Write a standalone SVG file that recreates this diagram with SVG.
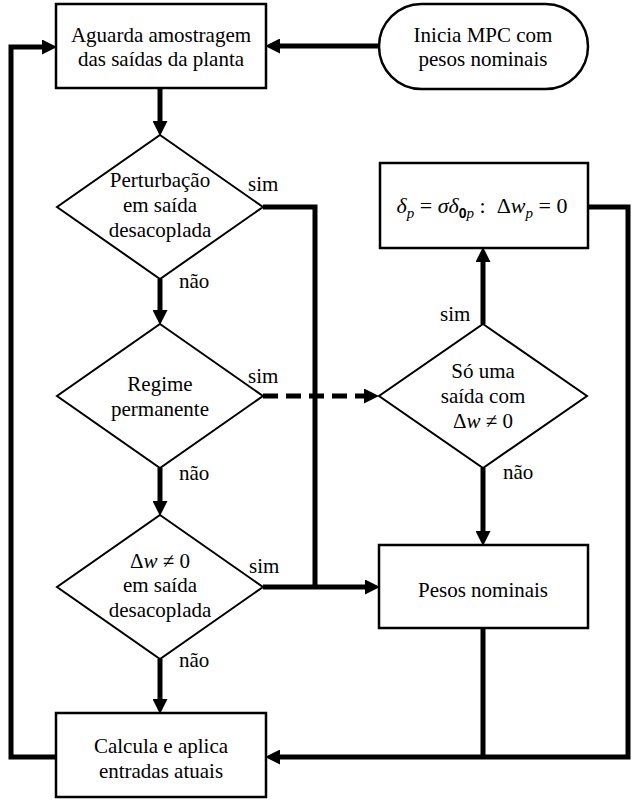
<svg xmlns="http://www.w3.org/2000/svg" width="634" height="800" viewBox="0 0 634 800" font-family="'Liberation Serif', 'Times New Roman', serif">
<style>
text { font-family: 'Liberation Serif', 'Times New Roman', serif; font-size: 21px; fill: #000; }
.c { text-anchor: middle; }
.box { fill: #fff; stroke: #000; stroke-width: 2.5; }
.dia { fill: #fff; stroke: #000; stroke-width: 2; }
.conn { fill: none; stroke: #000; stroke-width: 5; stroke-linejoin: miter; }
.arr { marker-end: url(#ah); }
.dash { stroke-dasharray: 15 8; }
.it { font-style: italic; }
.sub { font-size: 15px; font-style: italic; }
.bz { font-family: 'Liberation Sans', Arial, sans-serif; font-weight: bold; font-size: 14px; }
</style>
<defs>
<marker id="ah" markerUnits="userSpaceOnUse" markerWidth="15" markerHeight="15" refX="4" refY="7.5" orient="auto">
<path d="M0,0 L15,7.5 L0,15 z" fill="#000"/>
</marker>
</defs>

<g id="connectors">
<path class="conn arr" d="M379,46 H276"/>
<path class="conn arr" d="M160,88 V125"/>
<path class="conn arr" d="M160,279 V314"/>
<path class="conn arr" d="M160,468 V505"/>
<path class="conn arr" d="M160,659 V703"/>
<path class="conn arr" d="M56,757 H11 V47 H46"/>
<path class="conn" d="M263,207 H315 V587"/>
<path class="conn arr" d="M263,587 H369"/>
<path class="conn arr dash" d="M263,396 H368"/>
<path class="conn arr" d="M483,324 V258"/>
<path class="conn arr" d="M483,468 V535"/>
<path class="conn arr" d="M588,207 H628 V757 H276"/>
<path class="conn" d="M483,628 V757"/>
</g>

<g id="start">
<rect class="box" x="379" y="4" width="209" height="85" rx="42.5" ry="42.5"/>
<text class="c" x="483" y="42">Inicia MPC com</text>
<text class="c" x="483" y="66">pesos nominais</text>
</g>

<g id="wait">
<rect class="box" x="56" y="4" width="210" height="84"/>
<text class="c" x="161" y="42">Aguarda amostragem</text>
<text class="c" x="161" y="66">das saídas da planta</text>
</g>

<g id="dec-disturb">
<polygon class="dia" points="160,135 263,207 160,279 57,207"/>
<text class="c" x="160" y="187">Perturbação</text>
<text class="c" x="160" y="212">em saída</text>
<text class="c" x="160" y="237">desacoplada</text>
<text x="248" y="191">sim</text>
<text x="179" y="288">não</text>
</g>

<g id="dec-steady">
<polygon class="dia" points="160,324 263,396 160,468 57,396"/>
<text class="c" x="160" y="391">Regime</text>
<text class="c" x="160" y="416">permanente</text>
<text x="248" y="383">sim</text>
<text x="179" y="480">não</text>
</g>

<g id="dec-dw">
<polygon class="dia" points="160,515 263,587 160,659 57,587"/>
<text class="c" x="160" y="568">Δ<tspan class="it">w</tspan> ≠ 0</text>
<text class="c" x="160" y="592">em saída</text>
<text class="c" x="160" y="617">desacoplada</text>
<text x="249" y="573">sim</text>
<text x="179" y="667">não</text>
</g>

<g id="dec-single">
<polygon class="dia" points="483,324 587,396 483,468 379,396"/>
<text class="c" x="483" y="378">Só uma</text>
<text class="c" x="483" y="403">saída com</text>
<text class="c" x="483" y="428">Δ<tspan class="it">w</tspan> ≠ 0</text>
<text x="440" y="321">sim</text>
<text x="503" y="479">não</text>
</g>

<g id="delta">
<rect class="box" x="380" y="163" width="208" height="85"/>
<text class="c" x="482" y="213" style="font-size:22px"><tspan class="it">δ</tspan><tspan class="sub" dy="5">p</tspan><tspan dy="-5">&#160;=&#160;</tspan><tspan class="it">σδ</tspan><tspan class="bz" dy="5">0</tspan><tspan class="sub">p</tspan><tspan dy="-5">&#160;:&#160;&#160;Δ</tspan><tspan class="it">w</tspan><tspan class="sub" dy="5">p</tspan><tspan dy="-5">&#160;=&#160;0</tspan></text>
</g>

<g id="nominal">
<rect class="box" x="379" y="545" width="209" height="83"/>
<text class="c" x="483" y="597">Pesos nominais</text>
</g>

<g id="compute">
<rect class="box" x="56" y="713" width="210" height="84"/>
<text class="c" x="161" y="753">Calcula e aplica</text>
<text class="c" x="161" y="778">entradas atuais</text>
</g>
</svg>
